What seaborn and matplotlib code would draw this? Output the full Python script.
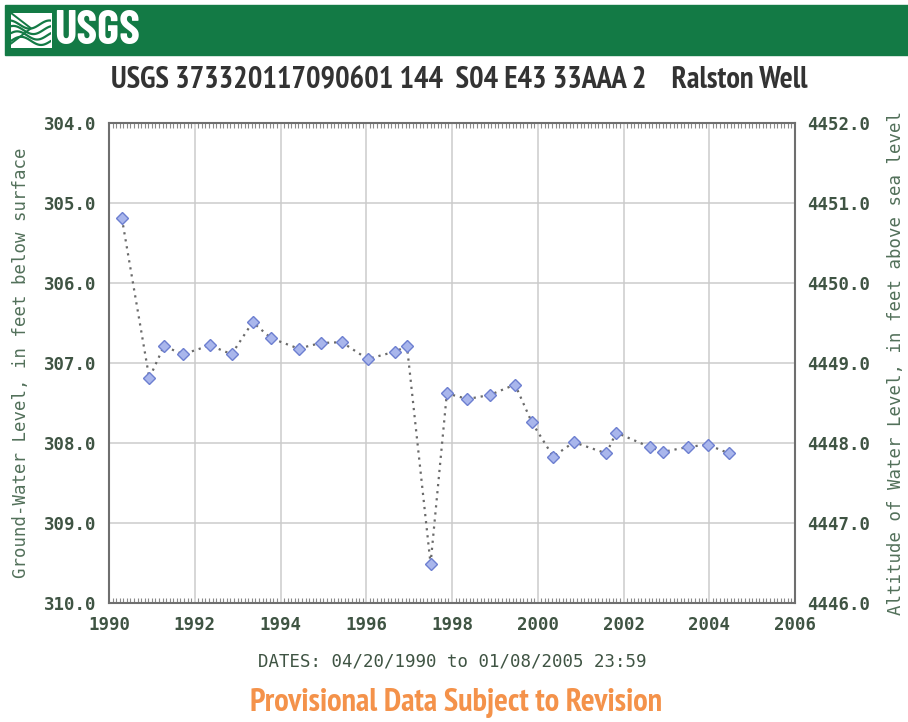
import seaborn as sns
import matplotlib.pyplot as plt
import matplotlib.ticker as mticker
from matplotlib import font_manager
from matplotlib.patches import Rectangle
import numpy as np
import pandas as pd

# Fechas de medición (años decimales) y nivel del agua (pies bajo la superficie)
anos = [1990.30, 1990.94, 1991.28, 1991.73, 1992.35, 1992.86, 1993.35, 1993.78,
        1994.42, 1994.94, 1995.43, 1996.03, 1996.66, 1996.95, 1997.50, 1997.88,
        1998.36, 1998.88, 1999.47, 1999.86, 2000.36, 2000.84, 2001.60, 2001.83,
        2002.61, 2002.93, 2003.50, 2003.96, 2004.46]
nivel = [305.19, 307.19, 306.79, 306.89, 306.78, 306.89, 306.49, 306.69,
         306.82, 306.75, 306.74, 306.95, 306.86, 306.79, 309.51, 307.38,
         307.45, 307.40, 307.27, 307.74, 308.17, 307.99, 308.13, 307.87,
         308.05, 308.11, 308.05, 308.02, 308.13]
anos_ticks = [1990, 1992, 1994, 1996, 1998, 2000, 2002, 2004, 2006]
nivel_ticks = [304, 305, 306, 307, 308, 309, 310]
altitud_ticks = [4452, 4451, 4450, 4449, 4448, 4447, 4446]

titulo = "USGS 373320117090601 144  S04 E43 33AAA 2    Ralston Well"
etiqueta_izq = "Ground-Water Level, in feet below surface"
etiqueta_der = "Altitude of Water Level, in feet above sea level"
etiqueta_x = "DATES: 04/20/1990 to 01/08/2005 23:59"
aviso = "Provisional Data Subject to Revision"

df = pd.DataFrame({'ano': anos, 'nivel': nivel})

sns.set_style("white")

# Familias estrechas instaladas que tengan variante negrita
pesos = {}
for f in font_manager.fontManager.ttflist:
    peso = f.weight if isinstance(f.weight, int) else 700 * ('bold' in str(f.weight))
    pesos.setdefault(f.name, set()).add(peso)


def elegir(opciones):
    for nombre in opciones:
        if nombre in pesos and max(pesos[nombre]) >= 700:
            return [nombre, 'DejaVu Sans']
    return ['DejaVu Sans']


fuente_estrecha = elegir(['Liberation Sans Narrow', 'PT Sans Narrow', 'Roboto Condensed',
                          'Barlow Semi Condensed', 'Asap Condensed'])
fuente_logo = elegir(['Barlow Condensed', 'Roboto Condensed', 'Liberation Sans Narrow'])
fuente_mono = ['DejaVu Sans Mono']
color_texto = '#3f5443'
color_etiqueta = '#52705a'

fig = plt.figure(figsize=(9.08, 7.22), dpi=100)
eje = fig.add_axes([109 / 908, 1 - 603 / 722, 686 / 908, 480 / 722])

sns.lineplot(data=df, x='ano', y='nivel', ax=eje, estimator=None, sort=False,
             color='#6a6a6a', linestyle=(0, (1, 2.2)), linewidth=1.6,
             marker='D', markersize=6, markerfacecolor='#a9b6ec',
             markeredgecolor='#6d7fd0', markeredgewidth=1.0, zorder=3)

eje.set_xlim(1990, 2006)
eje.set_ylim(310, 304)
eje.set_xticks(anos_ticks)
eje.set_yticks(nivel_ticks)
eje.set_yticklabels([f'{v:.1f}' for v in nivel_ticks])
eje.xaxis.set_minor_locator(mticker.MultipleLocator(1 / 12))
eje.grid(True, which='major', color='#cbcbcb', linewidth=1.1)
eje.tick_params(axis='both', which='major', length=0, pad=9, labelcolor=color_texto)
eje.tick_params(axis='x', which='minor', length=3.5, direction='in', top=True,
                bottom=True, color='#8a8a8a', width=0.8)
for etiqueta in eje.get_xticklabels() + eje.get_yticklabels():
    etiqueta.set_fontfamily(fuente_mono)
    etiqueta.set_fontweight('bold')
    etiqueta.set_fontsize(12.5)
for lado in eje.spines.values():
    lado.set_color('#6f6f6f')
    lado.set_linewidth(1.5)

eje.set_xlabel(etiqueta_x, family=fuente_mono, fontsize=12.5, color=color_texto,
               labelpad=14)
eje.set_ylabel(etiqueta_izq, family=fuente_mono, fontsize=12.5, color=color_etiqueta,
               labelpad=10)

eje_der = eje.twinx()
eje_der.set_ylim(4446, 4452)
eje_der.set_yticks(altitud_ticks)
eje_der.set_yticklabels([f'{v:.1f}' for v in altitud_ticks])
eje_der.tick_params(axis='y', length=0, pad=9, labelcolor=color_texto)
for etiqueta in eje_der.get_yticklabels():
    etiqueta.set_fontfamily(fuente_mono)
    etiqueta.set_fontweight('bold')
    etiqueta.set_fontsize(12.5)
for lado in eje_der.spines.values():
    lado.set_visible(False)
eje_der.set_ylabel(etiqueta_der, family=fuente_mono, fontsize=12.5,
                   color=color_etiqueta, labelpad=12)

# Banda verde del encabezado con el logotipo
fig.add_artist(Rectangle((5 / 908, 1 - 55 / 722), 903 / 908, 50 / 722,
                         transform=fig.transFigure, color='#137a45', zorder=0))
logo = fig.add_axes([11 / 908, 1 - 47 / 722, 40 / 908, 34 / 722])
logo.set_xlim(0, 1)
logo.set_ylim(0, 1)
logo.axis('off')
t = np.linspace(0, 1, 50)
logo.fill_between([0, 1], [0, 0], [1, 1], color='white')
for k in range(4):
    logo.plot(t, 0.18 + 0.16 * k + 0.12 * np.sin(2 * np.pi * t + k * 0.6),
              color='#137a45', linewidth=1.6)
logo.plot([0, 0.5, 0], [1, 0.55, 0.1], color='#137a45', linewidth=1.4)

texto_logo = fig.text(54 / 908, 1 - 31 / 722, 'USGS', color='white', fontsize=36,
                      fontweight='bold', family=fuente_logo, va='center', ha='left')
texto_titulo = fig.text(459 / 908, 1 - 80 / 722, titulo, color='#333333', fontsize=21,
                        fontweight='bold', family=fuente_estrecha, ha='center', va='center')
texto_aviso = fig.text(456 / 908, 1 - 703 / 722, aviso, color='#f4924a', fontsize=21,
                       fontweight='bold', family=fuente_estrecha, ha='center', va='center')

# Ajustar el tamaño de los textos al ancho que ocupan en la imagen original
render = fig.canvas.get_renderer()
for texto, ancho in [(texto_logo, 86), (texto_titulo, 698), (texto_aviso, 413)]:
    actual = texto.get_window_extent(render).width
    texto.set_fontsize(texto.get_fontsize() * ancho / actual)

fig.savefig('out.png', dpi=100)
